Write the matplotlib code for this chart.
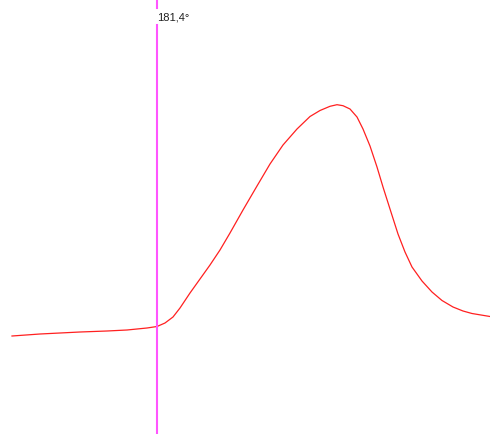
import matplotlib
matplotlib.use("Agg")
import matplotlib.pyplot as plt

pos = [12, 40, 60, 80, 107, 127, 147, 157, 165, 173, 180, 190, 200, 210,
       220, 230, 243, 257, 270, 283, 297, 310, 320, 330, 337, 343, 350,
       357, 363, 370, 377, 383, 390, 398, 405, 412, 422, 432, 442, 453,
       463, 472, 481, 490]
val = [337, 335, 334, 333, 332, 331, 329, 327.5, 324, 318, 309, 294, 280,
       266, 251, 234, 211, 187, 165, 146, 130, 117.5, 111.5, 107.3, 105.7,
       106.7, 110, 118, 130, 147, 168, 188, 210, 235, 253, 268, 282,
       293, 301.5, 308, 312, 314.5, 316, 317.5]

cursor_pos = 157
cursor_label = "181,4°"

fig = plt.figure(figsize=(4.9, 4.35), dpi=100)
ax = fig.add_axes([0, 0, 1, 1])
ax.set_xlim(0, 490)
ax.set_ylim(435, 0)
ax.axis("off")

ax.plot(pos, val, color="#ff2020", lw=0.9, solid_joinstyle="round")

# cursor line, broken where the label sits
ax.plot([cursor_pos, cursor_pos], [2, 9], color="#ff55ff", lw=1.5)
ax.plot([cursor_pos, cursor_pos], [26, 434], color="#ff55ff", lw=1.5)
ax.text(cursor_pos + 0.5, 18, cursor_label, fontsize=8,
        family="Liberation Sans", color="#202020", va="center", ha="left")

fig.savefig("out.png", dpi=100)
